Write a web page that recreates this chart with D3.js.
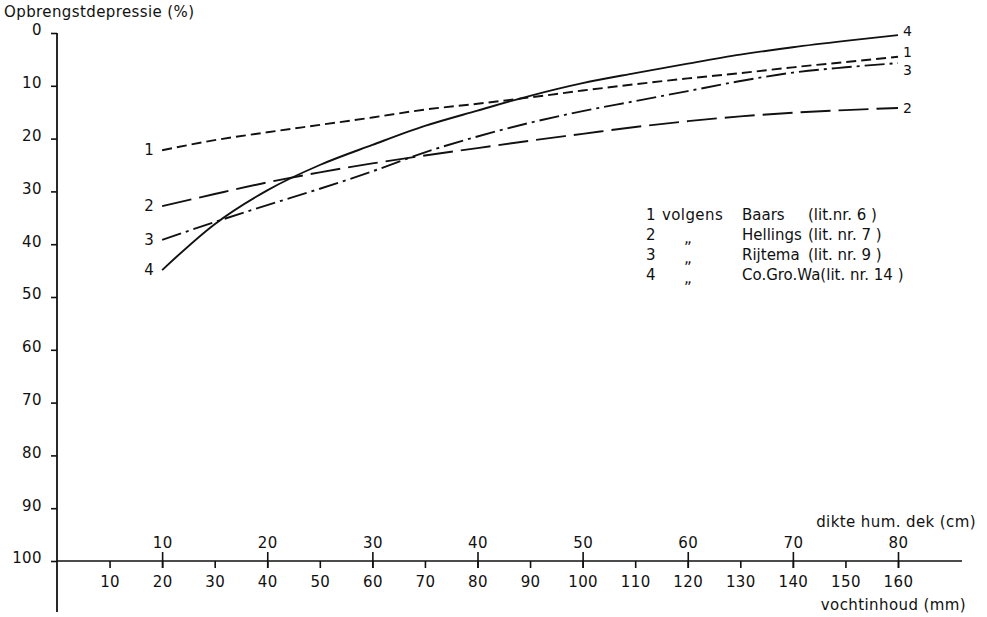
<!DOCTYPE html>
<html><head><meta charset="utf-8">
<script src="https://cdn.jsdelivr.net/npm/d3@7"></script>
<style>
html,body{margin:0;padding:0;background:#fff;}
svg text{font-family:"DejaVu Sans",sans-serif;fill:#111;font-size:15px;letter-spacing:0.4px;}
</style></head>
<body><svg id="c" width="987" height="617"></svg>
<script>
// ---- data ----
const xValues = [20, 30, 40, 50, 60, 70, 80, 90, 100, 110, 120, 130, 140, 150, 160]; // vochtinhoud (mm)
const baars    = [22.2, 20.3, 18.8, 17.4, 16.0, 14.5, 13.4, 12.2, 10.9, 9.7, 8.6, 7.6, 6.5, 5.5, 4.5];
const hellings = [32.8, 30.5, 28.3, 26.4, 24.7, 23.2, 21.8, 20.4, 19.1, 17.8, 16.7, 15.8, 15.1, 14.6, 14.2];
const rijtema  = [39.2, 35.8, 32.6, 29.5, 26.2, 22.6, 19.6, 17.0, 14.8, 12.9, 11.0, 9.1, 7.5, 6.5, 5.7];
const cogrowa  = [44.9, 36.2, 29.8, 25.0, 21.2, 17.6, 14.7, 11.9, 9.5, 7.6, 5.8, 4.1, 2.7, 1.5, 0.4];
const seriesIds = ["1", "2", "3", "4"];
const yTicks  = [0, 10, 20, 30, 40, 50, 60, 70, 80, 90, 100];
const mmTicks = [10, 20, 30, 40, 50, 60, 70, 80, 90, 100, 110, 120, 130, 140, 150, 160];
const cmTicks = [10, 20, 30, 40, 50, 60, 70, 80];
const legendNames = ["Baars", "Hellings", "Rijtema", "Co.Gro.Wa"];
const legendRefs  = ["(lit.nr. 6 )", "(lit. nr. 7 )", "(lit. nr. 9 )", "(lit. nr. 14 )"];

// ---- drawing ----
const svg = d3.select("#c");
const x  = d3.scaleLinear().domain([0, 160]).range([57, 898]);
const xc = d3.scaleLinear().domain([0, 80]).range([57, 898]);
const y  = d3.scaleLinear().domain([0, 100]).range([33, 561]);
const ink = "#111";

// y axis
const gy = svg.append("g").attr("transform", `translate(${x(0)},0)`)
  .call(d3.axisLeft(y).tickValues(yTicks).tickSize(6).tickSizeOuter(0));
gy.select(".domain").remove();
gy.selectAll(".tick line").attr("stroke", ink).attr("stroke-width", 1.6);
gy.selectAll(".tick text").attr("x", -15).attr("dy", "0.12em").style("font-size", "15px");
svg.append("line").attr("x1", x(0)).attr("x2", x(0)).attr("y1", y(0)).attr("y2", 612)
  .attr("stroke", ink).attr("stroke-width", 1.8);

// x axis (mm)
const gx = svg.append("g").attr("transform", `translate(0,${y(100)})`)
  .call(d3.axisBottom(x).tickValues(mmTicks).tickSize(7).tickFormat(d3.format("d")));
gx.select(".domain").remove();
gx.selectAll(".tick line").attr("stroke", ink).attr("stroke-width", 1.6);
gx.selectAll(".tick text").attr("y", 15).attr("dy", "0.71em").style("font-size", "15px");
svg.append("line").attr("x1", x(0)).attr("x2", 962).attr("y1", y(100)).attr("y2", y(100))
  .attr("stroke", ink).attr("stroke-width", 1.6);

// x axis (cm) on top side
const gc = svg.append("g").attr("transform", `translate(0,${y(100)})`)
  .call(d3.axisTop(xc).tickValues(cmTicks).tickSize(9).tickFormat(d3.format("d")));
gc.select(".domain").remove();
gc.selectAll(".tick line").attr("stroke", ink).attr("stroke-width", 1.6).attr("y2", 7).attr("y1", -9);
gc.selectAll(".tick text").attr("y", -13).style("font-size", "15px");

// axis titles
svg.append("text").attr("x", 4).attr("y", 17).text("Opbrengstdepressie (%)");
svg.append("text").attr("x", 976).attr("y", 527).attr("text-anchor", "end").text("dikte hum. dek (cm)");
svg.append("text").attr("x", 966).attr("y", 610).attr("text-anchor", "end").text("vochtinhoud (mm)");

// curves
const allSeries = [baars, hellings, rijtema, cogrowa];
const dashes = ["10,5", "30,8", "20,5,3,5", null];
const rightOff = [-5.5, 0, 6.5, -5];
const line = d3.line().x((d, i) => x(xValues[i])).y(d => y(d)).curve(d3.curveMonotoneX);
allSeries.forEach((s, k) => {
  svg.append("path").datum(s).attr("d", line).attr("fill", "none")
    .attr("stroke", ink).attr("stroke-width", 1.9)
    .attr("stroke-dasharray", dashes[k]);
  svg.append("text").attr("x", x(xValues[0]) - 8).attr("y", y(s[0]) + 5)
    .attr("text-anchor", "end").text(seriesIds[k]);
  const last = s[s.length - 1];
  svg.append("text").attr("x", x(xValues[xValues.length - 1]) + 5).attr("y", y(last) + 5.5 + rightOff[k])
    .style("font-size", "14px").text(seriesIds[k]);
});

// legend
const lg = svg.append("g").style("font-size", "14px");
seriesIds.forEach((id, k) => {
  const yy = 220 + k * 20;
  lg.append("text").attr("x", 646).attr("y", yy).style("font-size", "15px").text(id);
  if (k === 0) lg.append("text").attr("x", 662).attr("y", yy).style("font-size", "15px").text("volgens");
  else lg.append("text").attr("x", 684).attr("y", yy + 3).text("„");
  if (k === 3) {
    lg.append("text").attr("x", 742).attr("y", yy).style("letter-spacing", "0px")
      .text(legendNames[k] + legendRefs[k]);
  } else {
    lg.append("text").attr("x", 742).attr("y", yy).style("letter-spacing", "0px").text(legendNames[k]);
    lg.append("text").attr("x", 808).attr("y", yy).style("letter-spacing", "0px").text(legendRefs[k]);
  }
});
</script>
</body></html>
